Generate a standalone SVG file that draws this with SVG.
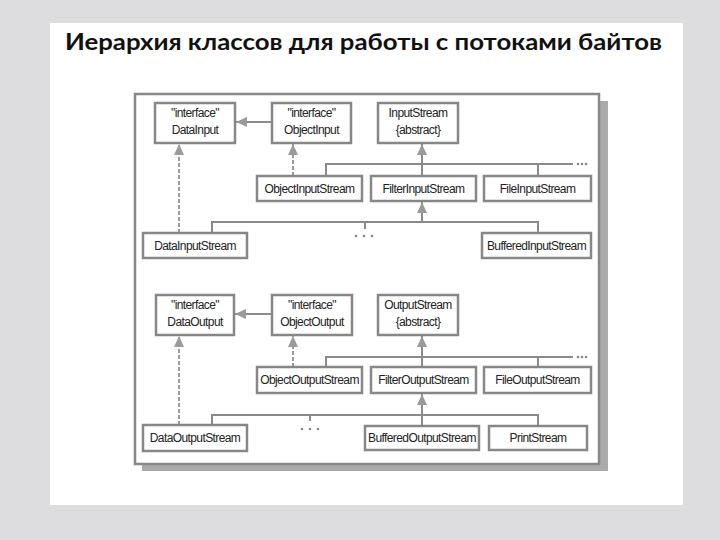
<svg xmlns="http://www.w3.org/2000/svg" width="720" height="540" viewBox="0 0 720 540">
<defs>
<style>
.bg{fill:#dddde0}
.panel{fill:#ffffff}
.title{font-family:Lato,"Open Sans","Liberation Sans",sans-serif;font-weight:bold;font-size:22px;fill:#111}
.box{fill:#ffffff;stroke:#878787;stroke-width:2.5}
.t{font-family:"Liberation Sans",Arial,sans-serif;font-size:12px;fill:#222;text-anchor:middle;letter-spacing:-0.6px}
.ln{fill:none;stroke:#8a8a8a;stroke-width:2}
.dash{fill:none;stroke:#9a9a9a;stroke-width:2;stroke-dasharray:4 2}
.dot{fill:#8a8a8a}
</style>
<marker id="ah" markerUnits="userSpaceOnUse" markerWidth="12" markerHeight="10" refX="11" refY="5" orient="auto">
<path d="M0,0 L11,5 L0,10 Z" fill="#9a9a9a"/>
</marker>
</defs>
<rect class="bg" x="0" y="0" width="720" height="540"/>
<rect class="panel" x="50" y="23" width="633" height="482"/>
<text class="title" x="65" y="50" textLength="597" lengthAdjust="spacingAndGlyphs">Иерархия классов для работы с потоками байтов</text>

<g id="frame">
<rect x="142" y="101" width="466" height="370" fill="#aaaaaa"/>
<rect x="135" y="94" width="464" height="370" fill="#ffffff" stroke="#888" stroke-width="2.5"/>
</g>

<g id="connectors">
<line class="ln" x1="272" y1="122" x2="236" y2="122" marker-end="url(#ah)"/>
<line class="dash" x1="293" y1="176" x2="293" y2="144" marker-end="url(#ah)"/>
<line class="dash" x1="179" y1="233" x2="179" y2="144" marker-end="url(#ah)"/>
<polyline class="ln" points="326,176 326,164 573,164"/>
<line class="ln" x1="538" y1="164" x2="538" y2="176"/>
<line class="ln" x1="422" y1="176" x2="422" y2="144" marker-end="url(#ah)"/>
<circle class="dot" cx="578" cy="164" r="1.3"/><circle class="dot" cx="582" cy="164" r="1.3"/><circle class="dot" cx="586" cy="164" r="1.3"/>
<polyline class="ln" points="212,233 212,222 538,222 538,233"/>
<line class="ln" x1="365" y1="222" x2="365" y2="229"/>
<line class="ln" x1="422" y1="222" x2="422" y2="202" marker-end="url(#ah)"/>
<circle class="dot" cx="356" cy="236" r="1.3"/><circle class="dot" cx="364" cy="236" r="1.3"/><circle class="dot" cx="372" cy="236" r="1.3"/>

<line class="ln" x1="272" y1="314" x2="235" y2="314" marker-end="url(#ah)"/>
<line class="dash" x1="293" y1="367" x2="293" y2="336" marker-end="url(#ah)"/>
<line class="dash" x1="179" y1="425" x2="179" y2="336" marker-end="url(#ah)"/>
<polyline class="ln" points="326,367 326,357 573,357"/>
<line class="ln" x1="538" y1="357" x2="538" y2="367"/>
<line class="ln" x1="422" y1="367" x2="422" y2="336" marker-end="url(#ah)"/>
<circle class="dot" cx="578" cy="357" r="1.3"/><circle class="dot" cx="582" cy="357" r="1.3"/><circle class="dot" cx="586" cy="357" r="1.3"/>
<polyline class="ln" points="212,425 212,415 538,415 538,426"/>
<line class="ln" x1="310" y1="415" x2="310" y2="421"/>
<line class="ln" x1="422" y1="426" x2="422" y2="394" marker-end="url(#ah)"/>
<circle class="dot" cx="302" cy="429" r="1.3"/><circle class="dot" cx="310" cy="429" r="1.3"/><circle class="dot" cx="318" cy="429" r="1.3"/>
</g>

<g id="DataInput"><rect class="box" x="155" y="103" width="80" height="40"/><text class="t" x="195" y="117">"interface"</text><text class="t" x="195" y="134">DataInput</text></g>
<g id="ObjectInput"><rect class="box" x="272" y="103" width="79" height="40"/><text class="t" x="311.5" y="117">"interface"</text><text class="t" x="311.5" y="134">ObjectInput</text></g>
<g id="InputStream"><rect class="box" x="378" y="103" width="80" height="40"/><text class="t" x="418" y="117">InputStream</text><text class="t" x="418" y="134">{abstract}</text></g>
<g id="ObjectInputStream"><rect class="box" x="257" y="176" width="105" height="25"/><text class="t" x="309.5" y="193">ObjectInputStream</text></g>
<g id="FilterInputStream"><rect class="box" x="371" y="176" width="105" height="25"/><text class="t" x="423.5" y="193">FilterInputStream</text></g>
<g id="FileInputStream"><rect class="box" x="484" y="176" width="107" height="25"/><text class="t" x="537.5" y="193">FileInputStream</text></g>
<g id="DataInputStream"><rect class="box" x="143" y="233" width="104" height="25"/><text class="t" x="195" y="250">DataInputStream</text></g>
<g id="BufferedInputStream"><rect class="box" x="482" y="233" width="109" height="25"/><text class="t" x="536.5" y="250">BufferedInputStream</text></g>

<g id="DataOutput"><rect class="box" x="156" y="295" width="78" height="40"/><text class="t" x="195" y="309">"interface"</text><text class="t" x="195" y="326">DataOutput</text></g>
<g id="ObjectOutput"><rect class="box" x="272" y="295" width="80" height="40"/><text class="t" x="312" y="309">"interface"</text><text class="t" x="312" y="326">ObjectOutput</text></g>
<g id="OutputStream"><rect class="box" x="378" y="295" width="80" height="40"/><text class="t" x="418" y="309">OutputStream</text><text class="t" x="418" y="326">{abstract}</text></g>
<g id="ObjectOutputStream"><rect class="box" x="257" y="367" width="105" height="26"/><text class="t" x="309.5" y="384">ObjectOutputStream</text></g>
<g id="FilterOutputStream"><rect class="box" x="371" y="367" width="105" height="26"/><text class="t" x="423.5" y="384">FilterOutputStream</text></g>
<g id="FileOutputStream"><rect class="box" x="484" y="367" width="107" height="26"/><text class="t" x="537.5" y="384">FileOutputStream</text></g>
<g id="DataOutputStream"><rect class="box" x="143" y="425" width="104" height="26"/><text class="t" x="195" y="442">DataOutputStream</text></g>
<g id="BufferedOutputStream"><rect class="box" x="365" y="426" width="114" height="24"/><text class="t" x="422" y="442">BufferedOutputStream</text></g>
<g id="PrintStream"><rect class="box" x="489" y="426" width="98" height="24"/><text class="t" x="538" y="442">PrintStream</text></g>
</svg>
